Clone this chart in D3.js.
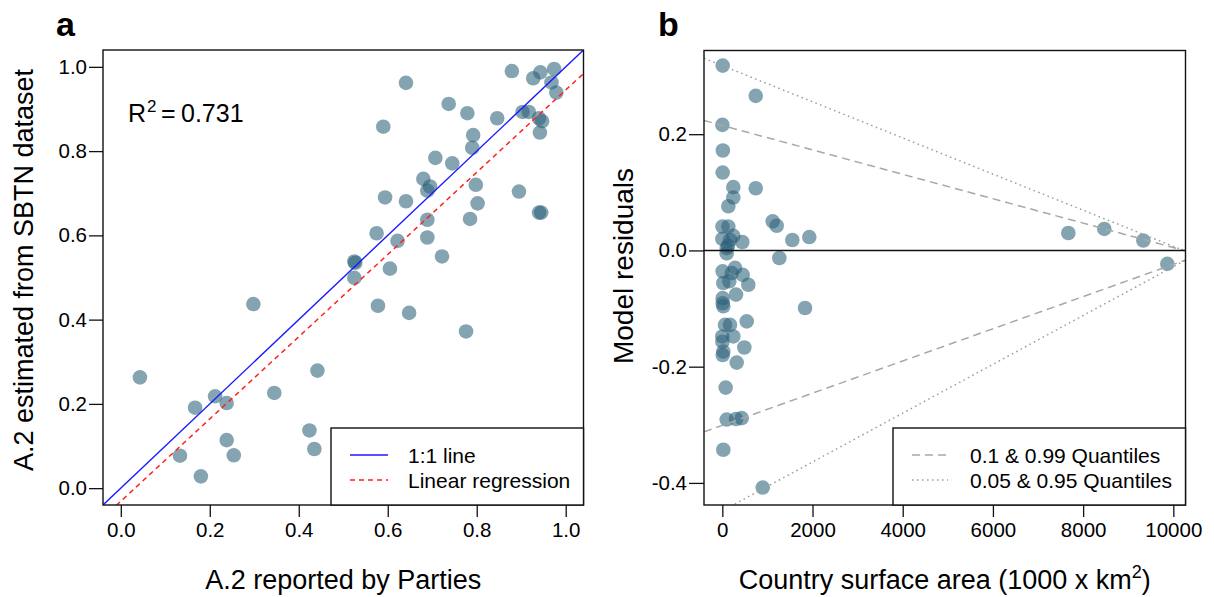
<!DOCTYPE html>
<html><head><meta charset="utf-8">
<script src="https://cdn.jsdelivr.net/npm/d3@7"></script>
<style>
body{margin:0;background:#fff}
text{font-family:"Liberation Sans",Arial,Helvetica,sans-serif;fill:#000}
</style>
</head><body>
<svg id="c" width="1214" height="597"></svg>
<script>
// ---------- Panel a data ----------
const reportedA2 = [0.879,0.943,0.974,0.927,0.968,0.979,0.641,0.737,0.779,0.846,0.903,0.917,0.940,0.947,0.942,0.590,0.792,0.790,0.707,0.745,0.680,0.695,0.689,0.798,0.895,0.594,0.641,0.802,0.940,0.945,0.689,0.785,0.575,0.622,0.689,0.722,0.525,0.527,0.605,0.525,0.298,0.578,0.648,0.776,0.043,0.442,0.345,0.212,0.238,0.167,0.424,0.238,0.435,0.133,0.254,0.180];
const estimatedA2 = [0.990,0.987,0.995,0.973,0.963,0.939,0.962,0.912,0.890,0.878,0.893,0.893,0.878,0.871,0.844,0.858,0.838,0.808,0.784,0.771,0.734,0.716,0.706,0.720,0.704,0.690,0.681,0.676,0.654,0.654,0.637,0.639,0.605,0.587,0.595,0.550,0.538,0.535,0.521,0.499,0.437,0.433,0.416,0.372,0.263,0.279,0.226,0.218,0.202,0.191,0.137,0.114,0.093,0.077,0.078,0.028];
const ticksA = [0.0,0.2,0.4,0.6,0.8,1.0];
const regIntercept = -0.031;
const regSlope = 0.976;
const rSquaredLabel = "0.731";
const legendA = ["1:1 line","Linear regression"];

// ---------- Panel b data ----------
const surfaceArea = [9,741,2,12,8,244,741,244,133,3,133,1117,1206,244,0,443,171,1552,1929,97,125,97,1264,7672,8470,9335,9867,
  7,282,208,452,576,22,155,304,8,8,22,1834,60,171,541,0,244,2,22,8,488,319,75,97,304,430,22,896];
const residuals = [0.318,0.266,0.216,0.172,0.134,0.109,0.107,0.091,0.076,0.041,0.041,0.050,0.0425,0.025,0.020,0.0145,0.018,0.018,0.023,0.004,0.008,-0.005,-0.013,0.030,0.037,0.017,-0.023,
  -0.036,-0.030,-0.039,-0.042,-0.059,-0.056,-0.053,-0.076,-0.082,-0.091,-0.096,-0.099,-0.128,-0.128,-0.122,-0.148,-0.148,-0.157,-0.174,-0.180,-0.167,-0.193,-0.236,-0.291,-0.290,-0.2885,-0.343,-0.408];
const xTicksB = [0,2000,4000,6000,8000,10000];
const yTicksB = [-0.4,-0.2,0.0,0.2];
const quantileIntercepts = [0.215,-0.301,0.318,-0.448];
const quantileSlopes = [-2.10e-5,2.77e-5,-3.11e-5,4.20e-5];
const quantileKinds = ["dash","dash","dot","dot"];
const legendB = ["0.1 & 0.99 Quantiles","0.05 & 0.95 Quantiles"];

// ---------- drawing ----------
const svg = d3.select("#c");
const ptFill = "rgb(40,95,120)", ptOpacity = 0.57, ptR = 7.3;
const styles = {
  dash: {stroke:"#a8a8a8", dash:"8,5", width:1.5},
  dot:  {stroke:"#a0a0a0", dash:"1.6,3.4", width:1.5}
};

function box(g, p){
  g.append("rect").attr("x",p.l).attr("y",p.t).attr("width",p.r-p.l).attr("height",p.b-p.t)
   .attr("fill","none").attr("stroke","#111").attr("stroke-width",1.4);
}
function styleAxis(sel){
  sel.select(".domain").remove();
  sel.selectAll(".tick line").attr("stroke","#111").attr("stroke-width",1.3);
  sel.selectAll(".tick text").attr("font-size",20.5).attr("fill","#000")
     .attr("font-family","'Liberation Sans',Arial,sans-serif");
}
function clip(id,p){
  svg.append("clipPath").attr("id",id).append("rect")
    .attr("x",p.l).attr("y",p.t).attr("width",p.r-p.l).attr("height",p.b-p.t);
}

// Panel a
const pa = {l:103, r:583.5, t:50, b:505};
const xa = d3.scaleLinear().domain([-0.04,1.04]).range([pa.l,pa.r]);
const ya = d3.scaleLinear().domain([-0.04,1.04]).range([pa.b,pa.t]);
clip("clipA", pa);
const ga = svg.append("g");
ga.append("g").selectAll("circle").data(d3.zip(reportedA2, estimatedA2)).join("circle")
  .attr("cx",d=>xa(d[0])).attr("cy",d=>ya(d[1])).attr("r",ptR)
  .attr("fill",ptFill).attr("fill-opacity",ptOpacity);
const la = ga.append("g").attr("clip-path","url(#clipA)");
const xd = xa.domain();
la.append("line").attr("x1",xa(xd[0])).attr("y1",ya(xd[0])).attr("x2",xa(xd[1])).attr("y2",ya(xd[1]))
  .attr("stroke","#1a1aff").attr("stroke-width",1.4);
la.append("line").attr("x1",xa(xd[0])).attr("y1",ya(regIntercept+regSlope*xd[0]))
  .attr("x2",xa(xd[1])).attr("y2",ya(regIntercept+regSlope*xd[1]))
  .attr("stroke","#ff2020").attr("stroke-width",1.5).attr("stroke-dasharray","5,4");
box(ga, pa);
ga.append("g").attr("transform",`translate(0,${pa.b})`)
  .call(d3.axisBottom(xa).tickValues(ticksA).tickFormat(d=>d.toFixed(1)).tickSize(12).tickPadding(5)).call(styleAxis);
ga.append("g").attr("transform",`translate(${pa.l},0)`)
  .call(d3.axisLeft(ya).tickValues(ticksA).tickFormat(d=>d.toFixed(1)).tickSize(14).tickPadding(2)).call(styleAxis);
// R^2 label
const rt = ga.append("text").attr("y",122).attr("font-size",25);
rt.append("tspan").attr("x",128).text("R");
rt.append("tspan").attr("x",147).attr("font-size",17).attr("dy",-10).text("2");
rt.append("tspan").attr("x",161).attr("dy",10).text("=");
rt.append("tspan").attr("x",181).text(rSquaredLabel);
// legend a
const lgA = {l:331, r:pa.r, t:428, b:pa.b};
ga.append("rect").attr("x",lgA.l).attr("y",lgA.t).attr("width",lgA.r-lgA.l).attr("height",lgA.b-lgA.t)
  .attr("fill","#fff").attr("stroke","#111").attr("stroke-width",1.4);
const lgStylesA = [{s:"#1a1aff",d:null},{s:"#ff2020",d:"5,4"}];
legendA.forEach((t,i)=>{
  const y = 455 + i*25;
  ga.append("line").attr("x1",350).attr("x2",388).attr("y1",y).attr("y2",y)
    .attr("stroke",lgStylesA[i].s).attr("stroke-width",1.5).attr("stroke-dasharray",lgStylesA[i].d);
  ga.append("text").attr("x",408).attr("y",y).attr("dy","0.36em").attr("font-size",21).text(t);
});
// titles
svg.append("text").attr("x",(pa.l+pa.r)/2).attr("y",589).attr("text-anchor","middle").attr("font-size",27)
  .text("A.2 reported by Parties");
svg.append("text").attr("transform","translate(33,270) rotate(-90)").attr("text-anchor","middle").attr("font-size",27)
  .text("A.2 estimated from SBTN dataset");
svg.append("text").attr("x",56).attr("y",36).attr("font-size",34).attr("font-weight","bold").text("a");

// Panel b
const pb = {l:704, r:1185.5, t:50.5, b:505};
const xb = d3.scaleLinear().domain([-406,10270]).range([pb.l,pb.r]);
const yb = d3.scaleLinear().domain([-0.438,0.344]).range([pb.b,pb.t]);
clip("clipB", pb);
const gb = svg.append("g");
gb.append("g").selectAll("circle").data(d3.zip(surfaceArea, residuals)).join("circle")
  .attr("cx",d=>xb(d[0])).attr("cy",d=>yb(d[1])).attr("r",ptR)
  .attr("fill",ptFill).attr("fill-opacity",ptOpacity);
const lb = gb.append("g").attr("clip-path","url(#clipB)");
const xbd = xb.domain();
quantileIntercepts.forEach((a,i)=>{
  const st = styles[quantileKinds[i]];
  lb.append("line").attr("x1",xb(xbd[0])).attr("y1",yb(a+quantileSlopes[i]*xbd[0]))
    .attr("x2",xb(xbd[1])).attr("y2",yb(a+quantileSlopes[i]*xbd[1]))
    .attr("stroke",st.stroke).attr("stroke-width",st.width).attr("stroke-dasharray",st.dash);
});
lb.append("line").attr("x1",pb.l).attr("x2",pb.r).attr("y1",yb(0)).attr("y2",yb(0))
  .attr("stroke","#111").attr("stroke-width",1.4);
box(gb, pb);
gb.append("g").attr("transform",`translate(0,${pb.b})`)
  .call(d3.axisBottom(xb).tickValues(xTicksB).tickFormat(d=>String(d)).tickSize(12).tickPadding(5)).call(styleAxis);
gb.append("g").attr("transform",`translate(${pb.l},0)`)
  .call(d3.axisLeft(yb).tickValues(yTicksB).tickFormat(d=>d.toFixed(1)).tickSize(15).tickPadding(2)).call(styleAxis);
// legend b
const lgB = {l:893, r:pb.r, t:428, b:pb.b};
gb.append("rect").attr("x",lgB.l).attr("y",lgB.t).attr("width",lgB.r-lgB.l).attr("height",lgB.b-lgB.t)
  .attr("fill","#fff").attr("stroke","#111").attr("stroke-width",1.4);
legendB.forEach((t,i)=>{
  const y = 455 + i*25;
  const st = styles[i===0?"dash":"dot"];
  gb.append("line").attr("x1",912).attr("x2",948).attr("y1",y).attr("y2",y)
    .attr("stroke",st.stroke).attr("stroke-width",st.width).attr("stroke-dasharray",st.dash);
  gb.append("text").attr("x",970).attr("y",y).attr("dy","0.36em").attr("font-size",21).text(t);
});
const xt = svg.append("text").attr("x",(pb.l+pb.r)/2).attr("y",589).attr("text-anchor","middle").attr("font-size",27);
xt.append("tspan").text("Country surface area (1000 x km");
xt.append("tspan").attr("font-size",18).attr("dy",-11).text("2");
xt.append("tspan").attr("dy",11).text(")");
svg.append("text").attr("transform","translate(633,266) rotate(-90)").attr("text-anchor","middle").attr("font-size",28)
  .text("Model residuals");
svg.append("text").attr("x",658).attr("y",36).attr("font-size",34).attr("font-weight","bold").text("b");
</script>
</body></html>
